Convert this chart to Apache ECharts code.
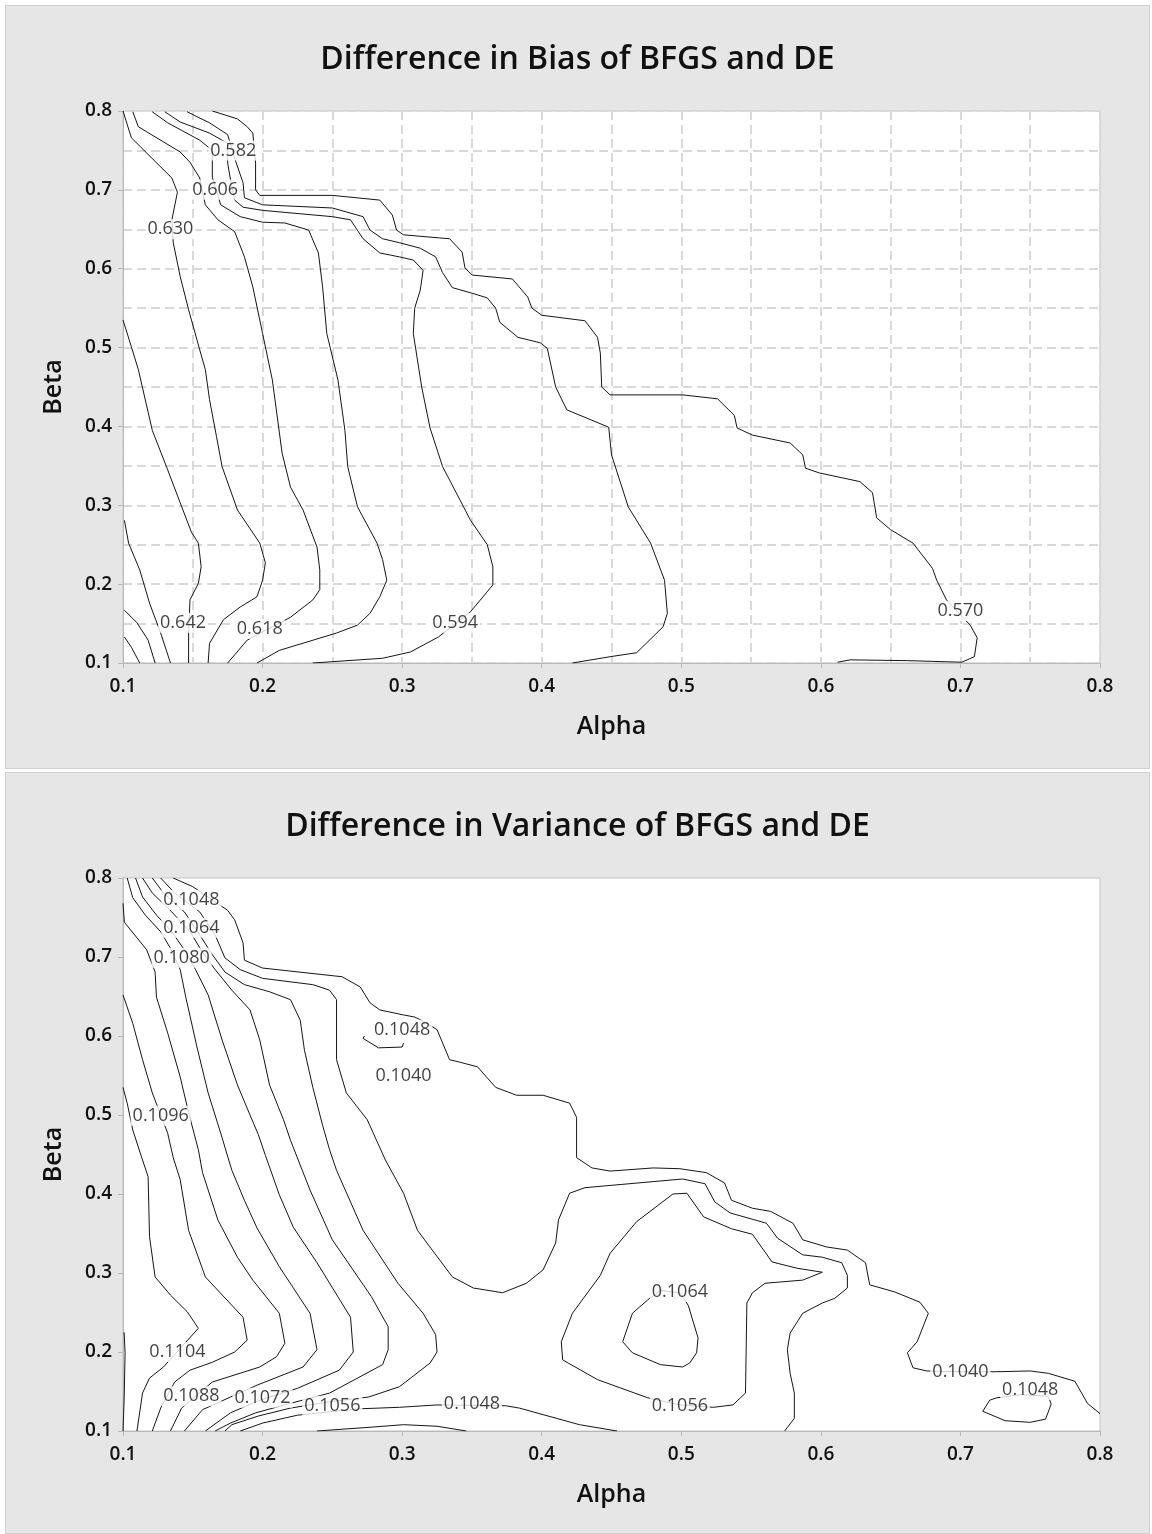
<!DOCTYPE html>
<html>
<head>
<meta charset="utf-8">
<script src="https://cdn.jsdelivr.net/npm/echarts@6/dist/echarts.min.js"></script>
<style>
  html, body { margin: 0; padding: 0; background: #ffffff; }
  .panel { position: absolute; left: 5px; width: 1143px; background: #e6e6e6; border: 1px solid #d0d0d0; }
  #biasPanel { top: 5px; height: 762px; }
  #varPanel { top: 772px; height: 760px; }
</style>
</head>
<body>
<div id="biasPanel" class="panel"></div>
<div id="varPanel" class="panel"></div>
<script>
// Axis ticks shared by both plots (alpha on x, beta on y)
const axisTicks = [0.1, 0.2, 0.3, 0.4, 0.5, 0.6, 0.7, 0.8];

// ---- Difference in Bias: contour lines as [alpha, beta] points ----
const biasL3 = [[0.101,0.133],[0.106,0.120],[0.112,0.100]];
const biasL2 = [[0.101,0.167],[0.110,0.151],[0.118,0.129],[0.123,0.100]];
const biasL1 = [[0.101,0.281],[0.104,0.252],[0.112,0.218],[0.119,0.176],[0.127,0.138],[0.134,0.100]];
const bias642 = [[0.100,0.535],[0.106,0.501],[0.111,0.472],[0.121,0.395],[0.132,0.345],[0.141,0.303],[0.149,0.266],[0.154,0.252],[0.156,0.222],[0.154,0.201],[0.148,0.180],[0.147,0.138],[0.147,0.100]];
const bias630 = [[0.100,0.800],[0.106,0.766],[0.135,0.715],[0.139,0.697],[0.135,0.662],[0.136,0.633],[0.141,0.590],[0.147,0.548],[0.155,0.497],[0.159,0.472],[0.162,0.434],[0.167,0.387],[0.171,0.349],[0.182,0.294],[0.198,0.252],[0.202,0.227],[0.200,0.205],[0.196,0.184],[0.184,0.171],[0.172,0.155],[0.162,0.125],[0.161,0.100]];
const bias618 = [[0.107,0.799],[0.111,0.780],[0.141,0.748],[0.148,0.735],[0.155,0.715],[0.157,0.697],[0.159,0.681],[0.168,0.662],[0.180,0.647],[0.187,0.615],[0.193,0.577],[0.200,0.518],[0.207,0.459],[0.214,0.366],[0.220,0.323],[0.229,0.294],[0.239,0.247],[0.241,0.218],[0.241,0.193],[0.236,0.180],[0.220,0.158],[0.189,0.129],[0.175,0.100]];
const bias606 = [[0.121,0.799],[0.132,0.785],[0.155,0.763],[0.164,0.750],[0.164,0.716],[0.170,0.681],[0.184,0.666],[0.200,0.659],[0.216,0.658],[0.233,0.649],[0.240,0.620],[0.243,0.577],[0.246,0.518],[0.254,0.459],[0.259,0.395],[0.261,0.349],[0.268,0.298],[0.282,0.252],[0.286,0.231],[0.289,0.205],[0.284,0.184],[0.277,0.163],[0.268,0.148],[0.253,0.138],[0.212,0.116],[0.196,0.100]];
const bias594 = [[0.130,0.799],[0.141,0.786],[0.162,0.772],[0.175,0.759],[0.175,0.734],[0.177,0.713],[0.180,0.687],[0.186,0.678],[0.200,0.674],[0.250,0.666],[0.263,0.662],[0.272,0.638],[0.284,0.620],[0.298,0.615],[0.308,0.611],[0.315,0.598],[0.313,0.573],[0.309,0.550],[0.308,0.518],[0.314,0.450],[0.320,0.398],[0.329,0.349],[0.349,0.281],[0.361,0.250],[0.365,0.222],[0.365,0.199],[0.349,0.165],[0.326,0.133],[0.306,0.114],[0.286,0.106],[0.236,0.100]];
const bias582 = [[0.146,0.799],[0.162,0.785],[0.175,0.770],[0.180,0.740],[0.186,0.709],[0.187,0.690],[0.200,0.681],[0.250,0.677],[0.272,0.666],[0.277,0.649],[0.286,0.638],[0.298,0.633],[0.313,0.626],[0.324,0.615],[0.329,0.595],[0.336,0.576],[0.350,0.569],[0.361,0.563],[0.367,0.550],[0.370,0.532],[0.383,0.513],[0.399,0.506],[0.404,0.499],[0.410,0.450],[0.418,0.421],[0.448,0.399],[0.450,0.364],[0.462,0.298],[0.478,0.252],[0.488,0.205],[0.490,0.163],[0.487,0.146],[0.468,0.113],[0.449,0.108],[0.422,0.100]];
const bias570 = [[0.164,0.800],[0.182,0.790],[0.189,0.780],[0.193,0.772],[0.195,0.734],[0.195,0.700],[0.198,0.693],[0.250,0.693],[0.284,0.687],[0.293,0.668],[0.296,0.649],[0.301,0.643],[0.327,0.639],[0.334,0.638],[0.343,0.621],[0.345,0.601],[0.350,0.592],[0.379,0.587],[0.390,0.564],[0.393,0.550],[0.400,0.541],[0.431,0.534],[0.440,0.513],[0.442,0.493],[0.443,0.450],[0.449,0.440],[0.501,0.440],[0.526,0.435],[0.538,0.414],[0.540,0.398],[0.551,0.389],[0.578,0.379],[0.587,0.364],[0.589,0.347],[0.599,0.341],[0.628,0.330],[0.637,0.316],[0.640,0.284],[0.650,0.269],[0.666,0.252],[0.680,0.220],[0.683,0.205],[0.690,0.180],[0.707,0.148],[0.712,0.132],[0.710,0.108],[0.701,0.101],[0.662,0.103],[0.621,0.104],[0.612,0.101]];
// contour level labels: [alpha, beta, text]
const biasLabels = [[0.179,0.750,'0.582'],[0.166,0.700,'0.606'],[0.134,0.650,'0.630'],[0.143,0.151,'0.642'],[0.198,0.143,'0.618'],[0.338,0.151,'0.594'],[0.700,0.166,'0.570']];

// ---- Difference in Variance: contour lines as [alpha, beta] points ----
const varEdge = [[0.1008,0.225],[0.1015,0.199],[0.1008,0.139],[0.100,0.100]];
const varF2 = [[0.100,0.535],[0.103,0.515],[0.107,0.481],[0.114,0.443],[0.118,0.422],[0.119,0.346],[0.123,0.295],[0.134,0.272],[0.146,0.251],[0.154,0.230],[0.129,0.181],[0.119,0.167],[0.114,0.148],[0.110,0.100]];
const varF3 = [[0.100,0.652],[0.107,0.616],[0.114,0.570],[0.121,0.528],[0.132,0.477],[0.136,0.446],[0.141,0.418],[0.147,0.354],[0.159,0.295],[0.186,0.244],[0.189,0.215],[0.180,0.200],[0.164,0.187],[0.148,0.177],[0.137,0.162],[0.127,0.129],[0.121,0.100]];
const varF4 = [[0.100,0.768],[0.101,0.744],[0.117,0.709],[0.123,0.681],[0.124,0.649],[0.132,0.604],[0.141,0.548],[0.147,0.503],[0.154,0.456],[0.157,0.427],[0.168,0.367],[0.182,0.320],[0.193,0.291],[0.212,0.249],[0.216,0.211],[0.210,0.194],[0.198,0.181],[0.164,0.162],[0.142,0.129],[0.134,0.100]];
const varF5 = [[0.103,0.800],[0.107,0.775],[0.116,0.753],[0.127,0.732],[0.134,0.711],[0.141,0.684],[0.145,0.649],[0.153,0.586],[0.161,0.528],[0.170,0.477],[0.178,0.430],[0.187,0.392],[0.196,0.357],[0.212,0.308],[0.234,0.249],[0.239,0.203],[0.229,0.181],[0.196,0.158],[0.177,0.143],[0.157,0.127],[0.144,0.100]];
const varF6 = [[0.109,0.800],[0.114,0.776],[0.124,0.753],[0.135,0.732],[0.144,0.709],[0.152,0.684],[0.161,0.652],[0.171,0.595],[0.182,0.538],[0.191,0.500],[0.197,0.475],[0.202,0.449],[0.212,0.399],[0.222,0.358],[0.239,0.313],[0.263,0.244],[0.265,0.200],[0.255,0.177],[0.225,0.154],[0.198,0.139],[0.177,0.123],[0.159,0.100]];
const varF7 = [[0.114,0.800],[0.121,0.781],[0.135,0.757],[0.148,0.732],[0.157,0.706],[0.166,0.684],[0.178,0.658],[0.191,0.633],[0.198,0.595],[0.205,0.538],[0.215,0.494],[0.220,0.468],[0.234,0.405],[0.250,0.342],[0.278,0.270],[0.290,0.232],[0.290,0.203],[0.286,0.184],[0.248,0.148],[0.220,0.135],[0.195,0.123],[0.177,0.110],[0.166,0.100]];
const varF8 = [[0.121,0.800],[0.129,0.781],[0.144,0.757],[0.155,0.728],[0.164,0.703],[0.173,0.681],[0.187,0.665],[0.205,0.656],[0.220,0.646],[0.227,0.620],[0.230,0.582],[0.236,0.535],[0.243,0.487],[0.248,0.456],[0.253,0.430],[0.272,0.354],[0.297,0.287],[0.315,0.249],[0.324,0.222],[0.325,0.200],[0.320,0.186],[0.298,0.156],[0.276,0.143],[0.248,0.137],[0.220,0.129],[0.197,0.119],[0.178,0.108],[0.173,0.100]];
const varU = [[0.127,0.800],[0.137,0.781],[0.155,0.757],[0.166,0.728],[0.173,0.699],[0.184,0.684],[0.200,0.673],[0.236,0.665],[0.248,0.658],[0.253,0.646],[0.253,0.570],[0.260,0.528],[0.275,0.494],[0.288,0.443],[0.301,0.401],[0.311,0.354],[0.336,0.295],[0.351,0.281],[0.372,0.275],[0.389,0.287],[0.401,0.304],[0.410,0.338],[0.412,0.367],[0.420,0.401],[0.431,0.408],[0.501,0.419],[0.517,0.413],[0.524,0.390],[0.535,0.376],[0.561,0.363],[0.569,0.344],[0.587,0.323],[0.601,0.320],[0.615,0.313],[0.619,0.297],[0.619,0.281],[0.610,0.268],[0.601,0.262],[0.587,0.249],[0.578,0.224],[0.576,0.203],[0.578,0.173],[0.581,0.148],[0.581,0.116],[0.574,0.100]];
const var1040 = [[0.136,0.800],[0.150,0.789],[0.175,0.759],[0.180,0.747],[0.186,0.718],[0.187,0.696],[0.200,0.686],[0.257,0.675],[0.270,0.662],[0.277,0.642],[0.284,0.633],[0.300,0.627],[0.309,0.624],[0.316,0.618],[0.325,0.608],[0.334,0.570],[0.341,0.567],[0.354,0.561],[0.367,0.535],[0.382,0.525],[0.401,0.525],[0.420,0.515],[0.425,0.497],[0.425,0.446],[0.436,0.433],[0.449,0.429],[0.480,0.433],[0.499,0.432],[0.518,0.427],[0.531,0.414],[0.536,0.392],[0.551,0.382],[0.564,0.378],[0.580,0.363],[0.587,0.342],[0.604,0.333],[0.619,0.329],[0.632,0.313],[0.635,0.285],[0.653,0.276],[0.671,0.263],[0.677,0.249],[0.669,0.213],[0.662,0.199],[0.666,0.180],[0.676,0.176],[0.700,0.175],[0.725,0.175],[0.750,0.176],[0.763,0.173],[0.782,0.163],[0.791,0.135],[0.800,0.122]];
const var1048Hook = [[0.273,0.600],[0.272,0.597],[0.283,0.585],[0.300,0.586],[0.301,0.591]];
const var1064Loop = [[0.476,0.266],[0.465,0.249],[0.458,0.213],[0.465,0.199],[0.485,0.184],[0.501,0.181],[0.506,0.186],[0.511,0.199],[0.512,0.218],[0.505,0.259],[0.499,0.275],[0.485,0.278],[0.476,0.266]];
const var1056Loop = [[0.523,0.130],[0.537,0.133],[0.546,0.148],[0.547,0.262],[0.551,0.275],[0.560,0.287],[0.587,0.291],[0.601,0.301],[0.583,0.306],[0.565,0.314],[0.551,0.349],[0.536,0.356],[0.516,0.371],[0.504,0.401],[0.494,0.400],[0.468,0.365],[0.449,0.325],[0.442,0.297],[0.422,0.249],[0.414,0.213],[0.415,0.190],[0.440,0.165],[0.476,0.142],[0.499,0.133],[0.523,0.130]];
const var1048Bottom = [[0.184,0.100],[0.200,0.110],[0.225,0.120],[0.268,0.128],[0.298,0.130],[0.325,0.133],[0.374,0.132],[0.384,0.129],[0.427,0.108],[0.454,0.100]];
const varArc = [[0.239,0.100],[0.279,0.105],[0.301,0.108],[0.325,0.106],[0.346,0.100]];
const var1048Loop = [[0.726,0.142],[0.721,0.139],[0.716,0.125],[0.732,0.113],[0.750,0.111],[0.761,0.115],[0.765,0.134],[0.763,0.144],[0.743,0.146],[0.726,0.142]];
const varLabels = [[0.149,0.772,'0.1048'],[0.149,0.737,'0.1064'],[0.142,0.699,'0.1080'],[0.300,0.608,'0.1048'],[0.301,0.549,'0.1040'],[0.127,0.499,'0.1096'],[0.139,0.200,'0.1104'],[0.149,0.144,'0.1088'],[0.200,0.142,'0.1072'],[0.250,0.132,'0.1056'],[0.350,0.134,'0.1048'],[0.499,0.276,'0.1064'],[0.499,0.132,'0.1056'],[0.700,0.175,'0.1040'],[0.750,0.152,'0.1048']];

const FONT = "'Open Sans', 'Noto Sans', sans-serif";

function axisCommon(name, isX, dashedGrid) {
  const grid = { show: dashedGrid, lineStyle: { color: '#d9d9d9', type: [9, 5], width: 2 } };
  return {
    type: 'value',
    min: axisTicks[0],
    max: axisTicks[axisTicks.length - 1],
    interval: 0.1,
    name: name,
    nameLocation: 'middle',
    nameGap: isX ? 51 : 57,
    nameRotate: isX ? 0 : 90,
    nameTextStyle: { fontFamily: FONT, fontSize: 25, fontWeight: 600, color: '#111' },
    axisLine: { show: true, lineStyle: { color: '#b8b8b8', width: 1 } },
    axisTick: { show: true, length: 5, lineStyle: { color: '#b8b8b8' } },
    axisLabel: {
      fontFamily: FONT, fontSize: 19, fontWeight: 600, color: '#111',
      margin: isX ? 14 : 11,
      formatter: v => v.toFixed(1)
    },
    splitLine: grid,
    minorTick: { show: false, splitNumber: 2 },
    minorSplitLine: grid
  };
}

function buildOption(title, lines, labels, dashedGrid, plotHeight) {
  const series = lines.map(pts => ({
    type: 'line',
    data: pts,
    symbol: 'none',
    showSymbol: false,
    silent: true,
    z: 2,
    lineStyle: { color: '#151515', width: 1 }
  }));
  series.push({
    type: 'scatter',
    data: labels.map(l => ({ value: [l[0], l[1]], name: l[2] })),
    symbolSize: 1,
    itemStyle: { color: 'rgba(0,0,0,0)' },
    silent: true,
    z: 10,
    label: {
      show: true,
      position: 'inside',
      formatter: p => p.name,
      fontFamily: FONT,
      fontSize: 18,
      color: '#111',
      backgroundColor: '#ffffff',
      padding: [1, 2]
    }
  });
  return {
    animation: false,
    title: {
      text: title,
      left: 'center',
      top: 33,
      textStyle: { fontFamily: FONT, fontSize: 32, fontWeight: 600, color: '#111' }
    },
    grid: {
      left: 117, top: 105, width: 977, height: plotHeight,
      show: true, backgroundColor: '#ffffff', borderColor: '#c4c4c4', borderWidth: 1
    },
    xAxis: axisCommon('Alpha', true, dashedGrid),
    yAxis: axisCommon('Beta', false, dashedGrid),
    series: series
  };
}

const biasChart = echarts.init(document.getElementById('biasPanel'), null, { renderer: 'canvas' });
biasChart.setOption(buildOption('Difference in Bias of BFGS and DE',
  [biasL3, biasL2, biasL1, bias642, bias630, bias618, bias606, bias594, bias582, bias570],
  biasLabels, true, 552));

const varChart = echarts.init(document.getElementById('varPanel'), null, { renderer: 'canvas' });
varChart.setOption(buildOption('Difference in Variance of BFGS and DE',
  [varEdge, varF2, varF3, varF4, varF5, varF6, varF7, varF8, varU, var1040, var1048Hook,
   var1064Loop, var1056Loop, var1048Bottom, varArc, var1048Loop],
  varLabels, false, 553));
</script>
</body>
</html>
